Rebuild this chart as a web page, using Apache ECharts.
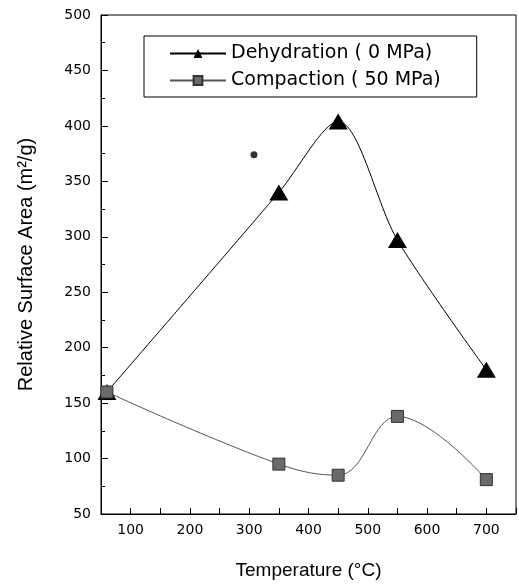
<!DOCTYPE html>
<html><head><meta charset="utf-8">
<script src="https://cdn.jsdelivr.net/npm/echarts@6/dist/echarts.min.js"></script>
<style>html,body{margin:0;padding:0;background:#fff}#c{width:519px;height:585px}</style>
</head><body><div id="c"></div>
<script>
const temperatures = [60, 350, 450, 550, 700];
const dehydration = [160, 340, 404, 297, 180];
const compaction = [160, 95, 85, 138, 81];
const strayPoint = [[308, 374]];
const seriesNames = ['Dehydration ( 0 MPa)', 'Compaction ( 50 MPa)'];
const xTickLabels = [100, 200, 300, 400, 500, 600, 700];

const chart = echarts.init(document.getElementById('c'));
const F = 'Liberation Sans, Arial, sans-serif';
chart.setOption({
  animation: false,
  backgroundColor: '#fff',
  grid: {left: 101, right: 2, top: 15, bottom: 68, show: true, borderColor: '#000', borderWidth: 1},
  legend: {
    data: seriesNames, orient: 'vertical', left: 144, top: 36,
    padding: [8, 36, 7, 25], itemGap: 8, itemWidth: 56, itemHeight: 11,
    borderColor: '#000', borderWidth: 1,
    textStyle: {fontFamily: 'DejaVu Sans', fontSize: 19, color: '#000'}
  },
  xAxis: {
    type: 'value', min: 50, max: 750, interval: 50,
    name: 'Temperature (°C)', nameLocation: 'middle', nameGap: 47,
    nameTextStyle: {fontFamily: F, fontSize: 19, color: '#000'},
    axisLine: {lineStyle: {color: '#000', width: 1}},
    axisTick: {inside: true, length: 6, lineStyle: {color: '#000'}},
    axisLabel: {fontFamily: 'DejaVu Sans', fontSize: 14, color: '#000', margin: 9,
      formatter: v => xTickLabels.indexOf(v) >= 0 ? String(v) : ''},
    splitLine: {show: false}
  },
  yAxis: {
    type: 'value', min: 50, max: 500, interval: 50,
    name: 'Relative Surface Area (m²/g)', nameLocation: 'middle', nameGap: 65,
    nameTextStyle: {fontFamily: F, fontSize: 20, color: '#000'},
    axisLine: {show: true, lineStyle: {color: '#000', width: 1}},
    axisTick: {inside: true, length: 7, lineStyle: {color: '#000'}},
    minorTick: {show: true, splitNumber: 2, length: 4, lineStyle: {color: '#000'}},
    axisLabel: {fontFamily: 'DejaVu Sans', fontSize: 14, color: '#000', margin: 10},
    splitLine: {show: false}
  },
  series: [
    {name: seriesNames[0], type: 'line', smooth: 0.3,
     data: temperatures.map((t, i) => [t, dehydration[i]]),
     symbol: 'triangle', symbolSize: [19, 16],
     itemStyle: {color: '#000'}, lineStyle: {color: '#000', width: 1}},
    {name: seriesNames[1], type: 'line', smooth: 0.4,
     data: temperatures.map((t, i) => [t, compaction[i]]),
     symbol: 'rect', symbolSize: 12,
     itemStyle: {color: '#6a6a6a', borderColor: '#333', borderWidth: 1},
     lineStyle: {color: '#555', width: 1}},
    {name: 'stray', type: 'scatter', data: strayPoint, symbol: 'circle', symbolSize: 7,
     itemStyle: {color: '#000'}, silent: true}
  ]
});
</script></body></html>
